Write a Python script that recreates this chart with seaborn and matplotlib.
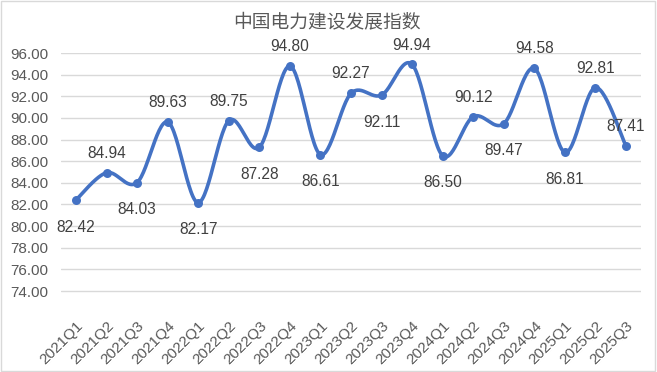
import matplotlib
matplotlib.use("Agg")
import matplotlib.pyplot as plt
import numpy as np
import pandas as pd
import seaborn as sns
from matplotlib.patches import Rectangle

# data
quarters = ["2021Q1", "2021Q2", "2021Q3", "2021Q4", "2022Q1", "2022Q2", "2022Q3",
            "2022Q4", "2023Q1", "2023Q2", "2023Q3", "2023Q4", "2024Q1", "2024Q2",
            "2024Q3", "2024Q4", "2025Q1", "2025Q2", "2025Q3"]
index_values = [82.42, 84.94, 84.03, 89.63, 82.17, 89.75, 87.28, 94.80, 86.61, 92.27,
                92.11, 94.94, 86.50, 90.12, 89.47, 94.58, 86.81, 92.81, 87.41]
label_above = [False, True, False, True, False, True, False, True, False, True,
               False, True, False, True, False, True, False, True, True]
title = "中国电力建设发展指数"


# Excel-style smoothed line: cubic bezier with catmull-rom control points
def smooth_curve(x, y, steps=30):
    pts = np.column_stack([x, y]).astype(float)
    padded = np.vstack([pts[0], pts, pts[-1]])
    t = np.linspace(0, 1, steps)[:, None]
    out = []
    for i in range(len(pts) - 1):
        p0, p3 = padded[i + 1], padded[i + 2]
        c1 = p0 + (padded[i + 2] - padded[i]) / 6
        c2 = p3 - (padded[i + 3] - padded[i + 1]) / 6
        seg = ((1 - t) ** 3) * p0 + 3 * ((1 - t) ** 2) * t * c1 + 3 * (1 - t) * t ** 2 * c2 + t ** 3 * p3
        out.append(seg if i == 0 else seg[1:])
    out = np.vstack(out)
    return pd.DataFrame({"x": out[:, 0], "y": out[:, 1]})


sns.set_theme(style="white")
plt.rcParams["font.family"] = ["Liberation Sans", "Noto Sans CJK SC", "DejaVu Sans"]

df = pd.DataFrame({"pos": np.arange(len(quarters)), "value": index_values})
curve = smooth_curve(df["pos"], df["value"])

fig = plt.figure(figsize=(6.57, 3.72), dpi=100)
ax = fig.add_axes([0.0924, 0.1594, 0.8837, 0.6981])

line_color = "#4472C4"
sns.lineplot(data=curve, x="x", y="y", ax=ax, color=line_color, lw=2.6, sort=False)
sns.scatterplot(data=df, x="pos", y="value", ax=ax, color=line_color, s=42,
                edgecolor=line_color, linewidth=0, zorder=3)

for pos, val, up in zip(df["pos"], df["value"], label_above):
    ax.annotate(f"{val:.2f}", (pos, val), xytext=(0, 14 if up else -19.5),
                textcoords="offset points", ha="center", va="center",
                fontsize=11.2, color="#404040")

ax.set_xlim(-0.5, len(quarters) - 0.5)
ax.set_ylim(72, 96)
ax.set_yticks(np.arange(74, 97, 2))
ax.set_yticklabels([f"{v:.2f}" for v in np.arange(74, 97, 2)])
ax.set_xticks(df["pos"])
ax.set_xticklabels(quarters, rotation=45, ha="right", rotation_mode="anchor")
ax.tick_params(axis="y", length=0, pad=9, labelsize=11, labelcolor="#595959")
ax.tick_params(axis="x", length=0, pad=4, labelsize=11, labelcolor="#595959")
ax.set_xlabel("")
ax.set_ylabel("")
ax.grid(axis="y", color="#D9D9D9", lw=1)
ax.set_axisbelow(True)
for s in ax.spines.values():
    s.set_visible(False)

fig.text(0.4977, 0.942, title, ha="center", va="center", fontsize=13.5,
         color="#595959", family=["Noto Sans CJK SC", "DejaVu Sans"])

fig.patches.append(Rectangle((0.002, 0.003), 0.995, 0.994, transform=fig.transFigure,
                             fill=False, edgecolor="#D9D9D9", lw=1))

fig.savefig("out.png", dpi=100)
